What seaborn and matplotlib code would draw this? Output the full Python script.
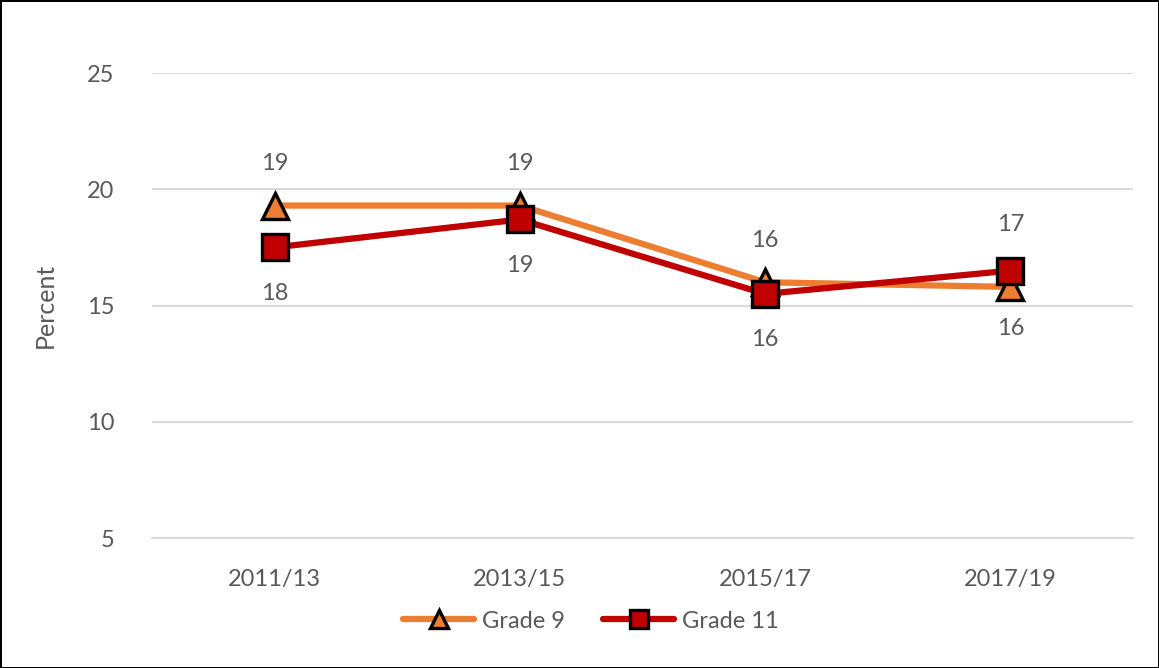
import matplotlib
matplotlib.use("Agg")
import matplotlib.pyplot as plt
import seaborn as sns
import pandas as pd
from matplotlib.lines import Line2D

categories = ["2011/13", "2013/15", "2015/17", "2017/19"]
grade9 = [19.3, 19.3, 16.0, 15.8]
grade11 = [17.5, 18.7, 15.5, 16.5]
grade9_labels = ["19", "19", "16", "16"]
grade11_labels = ["18", "19", "16", "17"]
series_names = ["Grade 9", "Grade 11"]
yticks = [5, 10, 15, 20, 25]

sns.set_theme(style="white")
plt.rcParams['font.family'] = ['Lato', 'DejaVu Sans']

df = pd.DataFrame({
    "cat": list(range(len(categories))) * 2,
    "value": grade9 + grade11,
    "series": [series_names[0]] * 4 + [series_names[1]] * 4,
})

colors = {"Grade 9": "#ED7D31", "Grade 11": "#C00000"}
markers = {"Grade 9": "^", "Grade 11": "s"}
text_color = "#595959"
fs = 17

fig = plt.figure(figsize=(11.59, 6.68), dpi=100)
ax = fig.add_axes([0.1311, 0.1946, 0.8465, 0.6961])

sns.lineplot(data=df, x="cat", y="value", hue="series", style="series",
             palette=colors, markers=markers, dashes=False, linewidth=4.5,
             markersize=19, markeredgecolor="black", markeredgewidth=2.4,
             ax=ax, legend=False, clip_on=False)

ax.set_xlim(-0.5, 3.5)
ax.set_ylim(5, 25)
ax.set_yticks(yticks)
ax.set_yticklabels([str(t) for t in yticks], fontsize=fs, color=text_color)
ax.set_xticks(range(len(categories)))
ax.set_xticklabels(categories, fontsize=fs, color=text_color)
ax.tick_params(axis='y', length=0, pad=27)
ax.tick_params(axis='x', length=0, pad=22)
ax.grid(axis='y', color="#D9D9D9", linewidth=1.5)
ax.set_axisbelow(True)
for s in ["top", "right", "left"]:
    ax.spines[s].set_visible(False)
ax.spines["bottom"].set_color("#D9D9D9")
ax.spines["bottom"].set_linewidth(1.5)
ax.set_xlabel("")
ax.set_ylabel("Percent", fontsize=fs + 1, color=text_color, labelpad=22)

g9_pos = [1, 1, 1, -1]
g11_pos = [-1, -1, -1, 1]
for i in range(len(categories)):
    ax.annotate(grade9_labels[i], (i, grade9[i]), xytext=(0, 30 * g9_pos[i]),
                textcoords="offset points", ha="center", va="center",
                fontsize=fs, color=text_color)
    ax.annotate(grade11_labels[i], (i, grade11[i]), xytext=(0, 33 * g11_pos[i]),
                textcoords="offset points", ha="center", va="center",
                fontsize=fs, color=text_color)

handles = [Line2D([0], [0], color=colors[n], lw=4.5, marker=markers[n],
                  markersize=13, markeredgecolor="black", markeredgewidth=2.4)
           for n in series_names]
leg = fig.legend(handles, series_names, loc="center", bbox_to_anchor=(0.51, 0.07),
                 ncol=2, frameon=False, fontsize=fs, handlelength=3.0,
                 columnspacing=1.6, handletextpad=0.35)
for t in leg.get_texts():
    t.set_color(text_color)

fig.patch.set_edgecolor("black")
fig.patch.set_linewidth(2)
fig.savefig("out.png", dpi=100, edgecolor=fig.get_edgecolor())
